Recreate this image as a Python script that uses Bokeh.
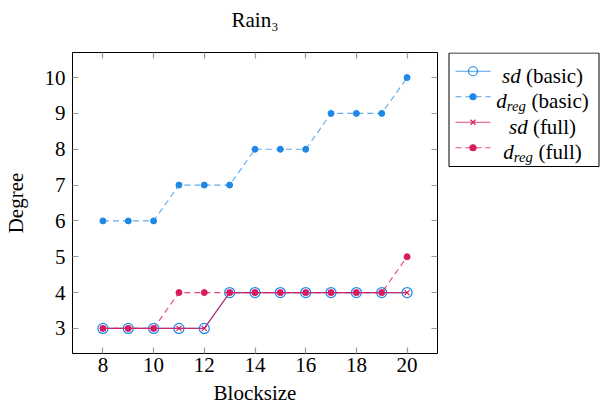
from bokeh.plotting import figure
from bokeh.models import Range1d, FixedTicker, LinearAxis, CustomJSTickFormatter
from bokeh.layouts import row
from bokeh.core.properties import value
from bokeh.embed import file_html
from bokeh.resources import INLINE

# ---- data ----
blocksize = [8, 9, 10, 11, 12, 13, 14, 15, 16, 17, 18, 19, 20]
sd_basic = [3, 3, 3, 3, 3, 4, 4, 4, 4, 4, 4, 4, 4]
dreg_basic = [6, 6, 6, 7, 7, 7, 8, 8, 8, 9, 9, 9, 10]
sd_full = [3, 3, 3, 3, 3, 4, 4, 4, 4, 4, 4, 4, 4]
dreg_full = [3, 3, 3, 4, 4, 4, 4, 4, 4, 4, 4, 4, 5]
x_ticks = [8, 10, 12, 14, 16, 18, 20]
y_ticks = [3, 4, 5, 6, 7, 8, 9, 10]
title_text = "Rain\u2083"

BLUE = "#1e88e5"
PINK = "#d81b60"
FONT = "Liberation Serif"
FS = "21px"

# ---- geometry (page px; Bokeh page has no body margin) ----
PAGE_W, PAGE_H = 600, 407
FIG_W = 447
F_L, F_R, F_T, F_B = 71, 437, 52, 353   # frame edges
X0, X1 = 6.8, 21.2
Y0, Y1 = 2.3, 10.7

p = figure(width=FIG_W, height=PAGE_H, output_backend="svg", toolbar_location=None,
           title=None,
           x_range=Range1d(X0, X1), y_range=Range1d(Y0, Y1),
           min_border_left=F_L, min_border_right=FIG_W - F_R,
           min_border_top=F_T, min_border_bottom=PAGE_H - F_B)
p.outline_line_color = "black"
p.outline_line_width = 1
p.outline_line_alpha = 1
p.grid.visible = False
p.background_fill_color = "white"
p.border_fill_color = "white"

def style_axis(ax, ticks, standoff):
    ax.ticker = FixedTicker(ticks=ticks)
    ax.axis_line_color = None
    ax.major_tick_in = 6
    ax.major_tick_out = 0
    ax.major_tick_line_color = "#9a9a9a"
    ax.major_tick_line_width = 1.2
    ax.minor_tick_line_color = None
    ax.major_label_text_font = FONT
    ax.major_label_text_font_size = FS
    ax.major_label_text_color = "black"
    ax.major_label_text_line_height = 1.0
    ax.major_label_standoff = standoff
    ax.axis_label_text_font = FONT
    ax.axis_label_text_font_size = FS
    ax.axis_label_text_font_style = "normal"
    ax.axis_label_text_color = "black"
    ax.axis_label_text_line_height = 1.0

style_axis(p.xaxis[0], x_ticks, 4)
style_axis(p.yaxis[0], y_ticks, 7)
p.xaxis[0].axis_label = "Blocksize"
p.xaxis[0].axis_label_standoff = 6
p.yaxis[0].axis_label = "Degree"
p.yaxis[0].axis_label_standoff = 14

blank = CustomJSTickFormatter(code="return ''")
top_ax = LinearAxis(formatter=blank)
right_ax = LinearAxis(formatter=blank)
style_axis(top_ax, x_ticks, 0)
style_axis(right_ax, y_ticks, 0)
top_ax.axis_label = title_text
top_ax.axis_label_standoff = 21
p.add_layout(top_ax, "above")
p.add_layout(right_ax, "right")

# series
p.line(blocksize, sd_basic, line_color=BLUE, line_width=1.1, line_alpha=0.8)
p.scatter(blocksize, sd_basic, marker="circle", size=10, fill_color=None,
          line_color=BLUE, line_width=1.2)
p.line(blocksize, dreg_basic, line_color=BLUE, line_width=1.1, line_alpha=0.7, line_dash="6 4")
p.scatter(blocksize, dreg_basic, marker="circle", size=6, fill_color=BLUE, line_color=BLUE)
p.line(blocksize, sd_full, line_color=PINK, line_width=1.1, line_alpha=0.85)
p.scatter(blocksize, sd_full, marker="x", size=7, line_color=PINK, line_width=1.2)
p.line(blocksize, dreg_full, line_color=PINK, line_width=1.1, line_alpha=0.8, line_dash="6 4")
p.scatter(blocksize, dreg_full, marker="circle", size=6, fill_color=PINK, line_color=PINK)

# ---- legend figure (its data coordinates equal page pixels) ----
LW = PAGE_W - FIG_W
q = figure(width=LW, height=PAGE_H, output_backend="svg", toolbar_location=None,
           title=None,
           x_range=Range1d(FIG_W, PAGE_W), y_range=Range1d(F_B, F_T),
           x_axis_location=None, y_axis_location=None,
           min_border_left=0, min_border_right=0,
           min_border_top=F_T, min_border_bottom=PAGE_H - F_B)
q.outline_line_color = None
q.grid.visible = False
q.border_fill_color = "white"
q.background_fill_color = "white"

q.quad(left=[448.5], right=[598.5], top=[52.5], bottom=[166],
       fill_color=None, line_color="black", line_width=1)

rows_y = [70.75, 96.25, 121.75, 147.25]
samples = [
    (BLUE, None, "circle", 9, None),
    (BLUE, "6 4", "circle", 6, BLUE),
    (PINK, None, "x", 7, None),
    (PINK, "6 4", "circle", 6, PINK),
]
for ry, (col, dash, mk, sz, fill) in zip(rows_y, samples):
    kw = dict(line_color=col, line_width=1.1, line_alpha=0.8)
    if dash:
        kw["line_dash"] = dash
    q.line([455, 490], [ry, ry], **kw)
    q.scatter([472.5], [ry], marker=mk, size=sz, fill_color=fill,
              line_color=col, line_width=1.2)

# label layout with Times-like advance widths (em)
IT = {"s": 0.389, "d": 0.5, "r": 0.389, "e": 0.444, "g": 0.5}
RM = {"(": 0.333, ")": 0.333, "b": 0.5, "a": 0.444, "s": 0.389, "i": 0.278,
      "c": 0.444, "f": 0.333, "u": 0.5, "l": 0.278, " ": 0.25}

def w(txt, table, size):
    return sum(table[ch] for ch in txt) * size

legend_labels = [("sd", None, "(basic)"), ("d", "reg", "(basic)"),
                 ("sd", None, "(full)"), ("d", "reg", "(full)")]
CX = 542
it_x, it_y, it_t = [], [], []
sub_x, sub_y, sub_t = [], [], []
rm_x, rm_y, rm_t = [], [], []
for ry, (a, sub, b) in zip(rows_y, legend_labels):
    total = w(a, IT, 21) + (w(sub, IT, 14.7) if sub else 0) + w(" ", RM, 21) + w(b, RM, 21)
    x = CX - total / 2
    base = ry + 4.5
    it_x.append(x); it_y.append(base); it_t.append(a)
    x += w(a, IT, 21)
    if sub:
        sub_x.append(x); sub_y.append(base + 4.5); sub_t.append(sub)
        x += w(sub, IT, 14.7)
    x += w(" ", RM, 21)
    rm_x.append(x); rm_y.append(base); rm_t.append(b)

q.text(x=it_x, y=it_y, text=it_t, text_font=value(FONT),
       text_font_size="21px", text_font_style="italic", text_baseline="alphabetic",
       text_align="left", text_color="black")
q.text(x=sub_x, y=sub_y, text=sub_t, text_font=value(FONT),
       text_font_size="14.7px", text_font_style="italic", text_baseline="alphabetic",
       text_align="left", text_color="black")
q.text(x=rm_x, y=rm_y, text=rm_t, text_font=value(FONT),
       text_font_size="21px", text_baseline="alphabetic",
       text_align="left", text_color="black")

layout = row(p, q)
open("out.html", "w").write(file_html(layout, INLINE))
